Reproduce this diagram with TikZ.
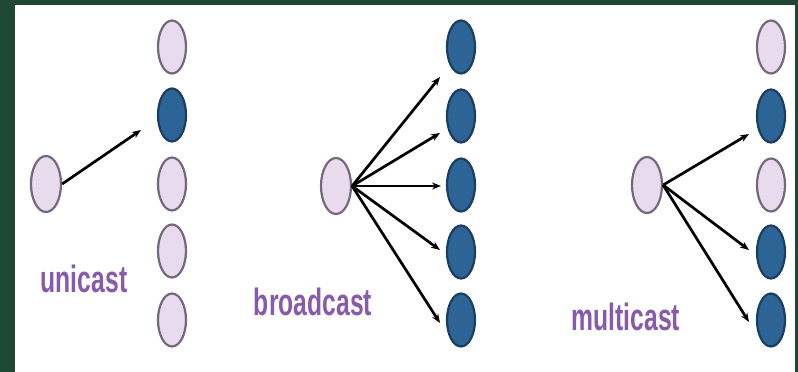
\documentclass[tikz,border=0pt]{standalone}
\usepackage{fontspec}
\setmainfont{Liberation Sans}
\usetikzlibrary{shapes.geometric,arrows.meta}
\definecolor{bggreen}{RGB}{31,72,52}
\definecolor{lightfill}{RGB}{231,219,237}
\definecolor{lightline}{RGB}{118,104,124}
\definecolor{darkfill}{RGB}{44,100,150}
\definecolor{darkline}{RGB}{28,62,96}
\definecolor{labelpurple}{RGB}{136,90,172}
\tikzset{
  lightnode/.style={ellipse, draw=lightline, fill=lightfill, line width=2.2pt, inner sep=0pt, minimum width=28pt, minimum height=53pt},
  darknode/.style={ellipse, draw=darkline, fill=darkfill, line width=2.2pt, inner sep=0pt, minimum width=28pt, minimum height=53pt},
  srcnode/.style={ellipse, draw=lightline, fill=lightfill, line width=2.2pt, inner sep=0pt, minimum width=30pt, minimum height=56pt},
  castarrow/.style={-{Stealth[length=9pt,width=7pt]}, line width=2.7pt, black},
  castlabel/.style={text=labelpurple, font=\fontsize{38}{38}\selectfont\bfseries, xscale=0.65, anchor=base, inner sep=0pt}
}
\begin{document}
\begin{tikzpicture}[x=1pt,y=-1pt]
\useasboundingbox (0,0) rectangle (798,372);
\fill[bggreen] (0,0) rectangle (798,372);
\fill[white] (15,5) rectangle (795,372);

% unicast
\node[srcnode] (u0) at (46,184) {};
\node[lightnode] (u1) at (172,47) {};
\node[darknode] (u2) at (172,115) {};
\node[lightnode] (u3) at (172,184) {};
\node[lightnode] (u4) at (172,251) {};
\node[lightnode] (u5) at (172,320) {};
\coordinate (ut) at (141,130);
\draw[castarrow] (u0.east) -- (ut);
\node[castlabel] (ul) at (84,292) {unicast};

% broadcast
\node[srcnode] (b0) at (336,186) {};
\node[darknode] (b1) at (461,47) {};
\node[darknode] (b2) at (461,116) {};
\node[darknode] (b3) at (461,185) {};
\node[darknode] (b4) at (461,252) {};
\node[darknode] (b5) at (461,320) {};
\coordinate (bt1) at (440,77);
\coordinate (bt2) at (440,133);
\coordinate (bt3) at (441,186);
\coordinate (bt4) at (440,250);
\coordinate (bt5) at (440,323);
\foreach \t in {bt1,bt2,bt3,bt4,bt5}{\draw[castarrow] (b0.east) -- (\t);}
\node[castlabel] (bl) at (313,315) {broadcast};

% multicast
\node[srcnode] (m0) at (647,185) {};
\node[lightnode] (m1) at (771,47) {};
\node[darknode] (m2) at (771,116) {};
\node[lightnode] (m3) at (771,185) {};
\node[darknode] (m4) at (771,252) {};
\node[darknode] (m5) at (771,320) {};
\coordinate (mt1) at (749,134);
\coordinate (mt2) at (749,250);
\coordinate (mt3) at (749,322);
\foreach \t in {mt1,mt2,mt3}{\draw[castarrow] (m0.east) -- (\t);}
\node[castlabel] (ml) at (626,330) {multicast};
\end{tikzpicture}
\end{document}
